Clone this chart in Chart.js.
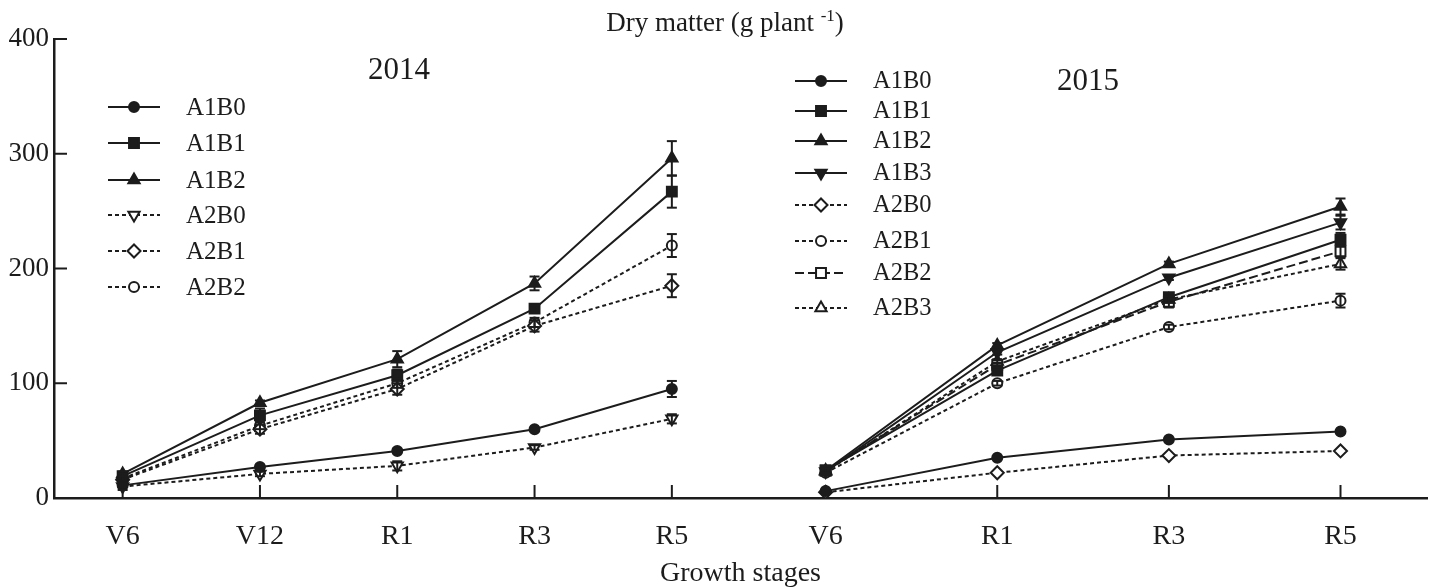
<!DOCTYPE html>
<html>
<head>
<meta charset="utf-8">
<script src="https://cdn.jsdelivr.net/npm/chart.js@4"></script>
<style>
  html, body { margin: 0; padding: 0; background: #fff; }
  #wrap { width: 1436px; height: 588px; position: relative; }
</style>
</head>
<body>
<div id="wrap"><canvas id="chartCanvas"></canvas></div>
<script>
// ---- data (g plant-1) ----
const stages2014 = ["V6", "V12", "R1", "R3", "R5"];
const stages2015 = ["V6", "R1", "R3", "R5"];
const yTicks = [0, 100, 200, 300, 400];

const a1b0_2014 = [11, 27, 41, 60, 95];
const a1b1_2014 = [19, 72, 107, 165, 267];
const a1b2_2014 = [21, 83, 121, 187, 296];
const a2b0_2014 = [10, 21, 28, 44, 69];
const a2b1_2014 = [16, 60, 95, 150, 185];
const a2b2_2014 = [17, 63, 100, 153, 220];

const a1b0_2014_err = [4, 2, 2, 1, 7];
const a1b1_2014_err = [2, 6, 5, 3, 14];
const a1b2_2014_err = [2, 2, 7, 6, 15];
const a2b0_2014_err = [1, 2, 4, 2, 4];
const a2b1_2014_err = [2, 4, 5, 5, 10];
const a2b2_2014_err = [2, 3, 4, 4, 10];

const a1b0_2015 = [6, 35, 51, 58];
const a1b1_2015 = [24, 111, 175, 225];
const a1b2_2015 = [24, 133, 204, 254];
const a1b3_2015 = [23, 127, 192, 240];
const a2b0_2015 = [5, 22, 37, 41];
const a2b1_2015 = [22, 100, 149, 172];
const a2b2_2015 = [24, 116, 171, 215];
const a2b3_2015 = [23, 119, 173, 204];

const a1b0_2015_err = [0, 1, 1, 1];
const a1b1_2015_err = [2, 3, 3, 6];
const a1b2_2015_err = [1, 2, 2, 7];
const a1b3_2015_err = [1, 2, 2, 6];
const a2b0_2015_err = [0, 1, 1, 1];
const a2b1_2015_err = [1, 2, 2, 6];
const a2b2_2015_err = [1, 2, 5, 5];
const a2b3_2015_err = [1, 2, 3, 5];

// ---- look ----
const FONT = "'Liberation Serif', 'Times New Roman', serif";
const INK = "#1c1c1c";
const SOLID = [];
const DOTS = [4, 3];
const DASH = [9, 4];

// 2015 stages sit on the same x axis, after a gap (units = one 2014 stage)
const X15_START = 5.12;
const X15_STEP = 1.25;
const x2014 = (i) => i;
const x2015 = (j) => X15_START + j * X15_STEP;

const xTickValues = stages2014.map((s, i) => x2014(i)).concat(stages2015.map((s, j) => x2015(j)));
const xTickLabels = stages2014.concat(stages2015);

// name, values, errors, marker, rotation, filled, dash
const series2014 = [
  ["A1B0", a1b0_2014, a1b0_2014_err, "circle", 0, true, SOLID],
  ["A1B1", a1b1_2014, a1b1_2014_err, "rect", 0, true, SOLID],
  ["A1B2", a1b2_2014, a1b2_2014_err, "triangle", 0, true, SOLID],
  ["A2B0", a2b0_2014, a2b0_2014_err, "triangle", 180, false, DOTS],
  ["A2B1", a2b1_2014, a2b1_2014_err, "rectRot", 0, false, DOTS],
  ["A2B2", a2b2_2014, a2b2_2014_err, "circle", 0, false, DOTS],
];
const series2015 = [
  ["A1B0", a1b0_2015, a1b0_2015_err, "circle", 0, true, SOLID],
  ["A1B1", a1b1_2015, a1b1_2015_err, "rect", 0, true, SOLID],
  ["A1B2", a1b2_2015, a1b2_2015_err, "triangle", 0, true, SOLID],
  ["A1B3", a1b3_2015, a1b3_2015_err, "triangle", 180, true, SOLID],
  ["A2B0", a2b0_2015, a2b0_2015_err, "rectRot", 0, false, DOTS],
  ["A2B1", a2b1_2015, a2b1_2015_err, "circle", 0, false, DOTS],
  ["A2B2", a2b2_2015, a2b2_2015_err, "rect", 0, false, DASH],
  ["A2B3", a2b3_2015, a2b3_2015_err, "triangle", 0, false, DOTS],
];

const RADIUS = { circle: 5, rect: 7, triangle: 6.5, rectRot: 6.5 };

function makeDataset(s, xAt, year) {
  const [name, vals, errs, style, rot, filled, dash] = s;
  return {
    label: name + " " + year,
    data: vals.map((v, i) => ({ x: xAt(i), y: v })),
    errs: errs,
    borderColor: INK,
    borderWidth: 2,
    borderDash: dash,
    fill: false,
    tension: 0,
    pointStyle: style,
    pointRotation: rot,
    pointRadius: RADIUS[style],
    pointHoverRadius: RADIUS[style],
    pointBorderWidth: 2,
    pointBorderColor: INK,
    pointBackgroundColor: filled ? INK : "#fff",
  };
}

const datasets = series2014.map((s) => makeDataset(s, x2014, 2014))
  .concat(series2015.map((s) => makeDataset(s, x2015, 2015)));

function line(ctx, x1, y1, x2, y2) {
  ctx.beginPath();
  ctx.moveTo(x1, y1);
  ctx.lineTo(x2, y2);
  ctx.stroke();
}

function marker(ctx, style, rot, filled, x, y) {
  ctx.setLineDash([]);
  ctx.fillStyle = filled ? INK : "#fff";
  ctx.strokeStyle = INK;
  ctx.lineWidth = 2;
  Chart.helpers.drawPoint(ctx, { pointStyle: style, rotation: rot, radius: RADIUS[style], borderWidth: 2 }, x, y);
}

function drawLegend(ctx, list, lx, rows, textX, fontSize) {
  list.forEach((s, k) => {
    const [name, , , style, rot, filled, dash] = s;
    const y = rows[k];
    ctx.strokeStyle = INK;
    ctx.lineWidth = 2;
    ctx.setLineDash(dash);
    line(ctx, lx, y, lx + 52, y);
    marker(ctx, style, rot, filled, lx + 26, y);
    ctx.fillStyle = INK;
    ctx.font = fontSize + "px " + FONT;
    ctx.textAlign = "left";
    ctx.textBaseline = "middle";
    ctx.fillText(name, textX, y + 1);
  });
}

const decor = {
  id: "decor",
  beforeDatasetsDraw(chart) {
    const ctx = chart.ctx, xs = chart.scales.x, ys = chart.scales.y;
    ctx.save();
    ctx.strokeStyle = INK;
    ctx.lineWidth = 2;
    // tick marks point inward
    yTicks.forEach((v) => {
      if (v === 0) return;
      const py = ys.getPixelForValue(v);
      line(ctx, xs.left, py, xs.left + 13, py);
    });
    xTickValues.forEach((v) => {
      const px = xs.getPixelForValue(v);
      line(ctx, px, ys.bottom, px, ys.bottom - 13);
    });
    ctx.restore();
  },
  afterDatasetsDraw(chart) {
    const ctx = chart.ctx, ys = chart.scales.y;
    ctx.save();
    ctx.strokeStyle = INK;
    ctx.lineWidth = 2;
    ctx.setLineDash([]);
    chart.data.datasets.forEach((ds, d) => {
      const meta = chart.getDatasetMeta(d);
      meta.data.forEach((pt, i) => {
        const e = ds.errs[i];
        if (!e || e < 2) return;
        const v = ds.data[i].y;
        const top = ys.getPixelForValue(v + e), bot = ys.getPixelForValue(v - e);
        line(ctx, pt.x, top, pt.x, bot);
        line(ctx, pt.x - 5, top, pt.x + 5, top);
        line(ctx, pt.x - 5, bot, pt.x + 5, bot);
      });
    });
    ctx.restore();
  },
  afterDraw(chart) {
    const ctx = chart.ctx;
    ctx.save();
    ctx.fillStyle = INK;

    // top title with superscript
    const main = "Dry matter (g plant ";
    const sup = "-1";
    const close = ")";
    ctx.font = "27px " + FONT;
    const wMain = ctx.measureText(main).width;
    const wClose = ctx.measureText(close).width;
    ctx.font = "17px " + FONT;
    const wSup = ctx.measureText(sup).width;
    const tx = 725 - (wMain + wSup + wClose) / 2;
    ctx.textAlign = "left";
    ctx.textBaseline = "alphabetic";
    ctx.font = "27px " + FONT;
    ctx.fillText(main, tx, 31);
    ctx.font = "17px " + FONT;
    ctx.fillText(sup, tx + wMain, 21);
    ctx.font = "27px " + FONT;
    ctx.fillText(close, tx + wMain + wSup, 31);

    // year captions
    ctx.font = "31px " + FONT;
    ctx.textAlign = "center";
    ctx.textBaseline = "middle";
    ctx.fillText("2014", 399, 71);
    ctx.fillText("2015", 1088, 82);

    drawLegend(ctx, series2014, 108, [107, 143, 180, 215, 251, 287], 186, 25);
    drawLegend(ctx, series2015, 795, [81, 111, 141, 173, 205, 241, 273, 308], 873, 24.5);
    ctx.restore();
  },
};

new Chart(document.getElementById("chartCanvas"), {
  type: "line",
  data: { datasets: datasets },
  plugins: [decor],
  options: {
    responsive: true,
    maintainAspectRatio: false,
    animation: false,
    layout: { padding: { left: 0, right: 5, top: 39, bottom: 0 } },
    plugins: { legend: { display: false }, tooltip: { enabled: false } },
    scales: {
      x: {
        type: "linear",
        min: -0.5,
        max: 9.5,
        afterBuildTicks: (s) => { s.ticks = xTickValues.map((v) => ({ value: v })); },
        afterFit: (s) => { s.height = 90; },
        grid: { display: false },
        border: { display: true, color: INK, width: 2.5 },
        ticks: {
          autoSkip: false,
          maxRotation: 0,
          padding: 14,
          color: INK,
          font: { family: FONT, size: 28 },
          callback: (v, i) => xTickLabels[i],
        },
        title: {
          display: true,
          text: "Growth stages",
          color: INK,
          font: { family: FONT, size: 28, lineHeight: 1 },
          padding: 0,
        },
      },
      y: {
        min: 0,
        max: 400,
        afterFit: (s) => { s.width = 54; },
        grid: { display: false },
        border: { display: true, color: INK, width: 2.5 },
        ticks: {
          stepSize: 100,
          padding: -3,
          color: INK,
          font: { family: FONT, size: 27 },
        },
      },
    },
  },
});
</script>
</body>
</html>
